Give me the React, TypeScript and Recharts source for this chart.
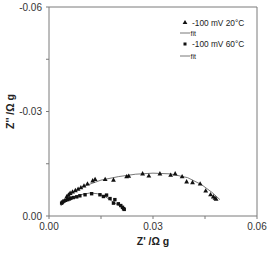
import React from "react";
import {
  ScatterChart,
  Scatter,
  XAxis,
  YAxis,
  ReferenceLine,
  Label,
} from "recharts";

// Nyquist data: Z' (Ω g) and Z'' (Ω g, negative, plotted with the axis reversed)
const z20Re = [0.0051, 0.0056, 0.0061, 0.0068, 0.0076, 0.0084, 0.0092, 0.0101, 0.0111, 0.0126, 0.0133, 0.0162, 0.0186, 0.0224, 0.023, 0.027, 0.0288, 0.032, 0.0351, 0.0364, 0.0384, 0.0397, 0.0414, 0.0436, 0.0452, 0.0466, 0.0474, 0.0479, 0.0482];
const z20Im = [-0.0056, -0.0061, -0.0066, -0.007, -0.0074, -0.0078, -0.0082, -0.0087, -0.0093, -0.0102, -0.0106, -0.0106, -0.0104, -0.0114, -0.0115, -0.0122, -0.0116, -0.0122, -0.0118, -0.0122, -0.0114, -0.0099, -0.0097, -0.0093, -0.0073, -0.0062, -0.0056, -0.0052, -0.0049];

const fit20Re = [0.0035, 0.005, 0.007, 0.01, 0.015, 0.02, 0.025, 0.03, 0.035, 0.04, 0.044, 0.047, 0.0493];
const fit20Im = [-0.003, -0.005, -0.0068, -0.0085, -0.0103, -0.0113, -0.012, -0.0123, -0.0121, -0.011, -0.009, -0.0068, -0.0047];

const z60Re = [0.00365, 0.0039, 0.0043, 0.0048, 0.0054, 0.0059, 0.0063, 0.007, 0.008, 0.0089, 0.0104, 0.0123, 0.0147, 0.0157, 0.0166, 0.0176, 0.0186, 0.019, 0.02, 0.0207, 0.0212, 0.0215, 0.0217];
const z60Im = [-0.0037, -0.004, -0.0043, -0.0045, -0.0047, -0.0049, -0.0051, -0.0053, -0.0055, -0.0058, -0.0061, -0.0064, -0.0061, -0.0056, -0.006, -0.005, -0.0037, -0.0047, -0.0035, -0.003, -0.0025, -0.0021, -0.0019];

const fit60Re = [0.0034, 0.005, 0.007, 0.009, 0.0118, 0.014, 0.016, 0.018, 0.02, 0.0219];
const fit60Im = [-0.003, -0.0043, -0.0054, -0.0061, -0.0066, -0.0064, -0.0057, -0.0044, -0.0031, -0.0018];

const xTicks = [0, 0.015, 0.03, 0.045, 0.06];
const yTicks = [0, -0.015, -0.03, -0.045, -0.06];
const labelledTicks = [0, 0.03, 0.06, -0.03, -0.06];

const legendItems = ["-100 mV 20°C", "fit", "-100 mV 60°C", "fit"];

const toPoints = (xs: number[], ys: number[]) => xs.map((x, i) => ({ x, y: ys[i] }));

const d20 = toPoints(z20Re, z20Im);
const f20 = toPoints(fit20Re, fit20Im);
const d60 = toPoints(z60Re, z60Im);
const f60 = toPoints(fit60Re, fit60Im);

const FONT = "'Liberation Sans', Arial, sans-serif";
const AXIS = "#7a7a7a";
const INK = "#111";

const fmt = (v: number) =>
  labelledTicks.some((t) => Math.abs(t - v) < 1e-9) ? v.toFixed(2) : "";

const Triangle = (p: any) => {
  const { cx, cy } = p;
  const s = 2.4;
  return <path d={`M${cx},${cy - s} L${cx + s},${cy + s * 0.8} L${cx - s},${cy + s * 0.8} Z`} fill={INK} />;
};

const Square = (p: any) => {
  const { cx, cy } = p;
  const s = 1.7;
  return <rect x={cx - s} y={cy - s} width={s * 2} height={s * 2} fill={INK} />;
};

const Nothing = () => <g />;

// Rotated y-axis title centred on the plot's vertical middle
const YTitle = (props: any) => {
  const { viewBox } = props;
  const cx = 10;
  const cy = viewBox.y + viewBox.height / 2;
  return (
    <text
      x={cx}
      y={cy}
      transform={`rotate(-90 ${cx} ${cy})`}
      textAnchor="middle"
      dominantBaseline="central"
      style={{ fontSize: 10.5, fontWeight: "bold", fill: "#222", fontFamily: FONT }}
    >
      Z'' /Ω g
    </text>
  );
};

export default function App() {
  const tickStyle = { fontSize: 10, fill: "#333", fontFamily: FONT };
  return (
    <div style={{ position: "fixed", left: 0, top: 0, width: 269, height: 253, background: "#fff" }}>
      <ScatterChart width={269} height={253} margin={{ top: 7, right: 12, left: 0, bottom: 0 }}>
        <XAxis
          type="number"
          dataKey="x"
          domain={[0, 0.06]}
          ticks={xTicks}
          tickFormatter={fmt}
          tick={tickStyle}
          tickSize={3}
          tickMargin={4}
          height={37}
          stroke={AXIS}
          allowDataOverflow
        >
          <Label
            value="Z' /Ω g"
            position="insideBottom"
            offset={8}
            style={{ fontSize: 10.5, fontWeight: "bold", fill: "#222", fontFamily: FONT }}
          />
        </XAxis>
        <YAxis
          type="number"
          dataKey="y"
          domain={[-0.06, 0]}
          reversed
          ticks={yTicks}
          tickFormatter={fmt}
          tick={tickStyle}
          tickSize={3}
          tickMargin={4}
          width={49}
          stroke={AXIS}
          allowDataOverflow
        >
          <Label content={YTitle} />
        </YAxis>
        <ReferenceLine y={-0.06} stroke={AXIS} />
        <ReferenceLine x={0.06} stroke={AXIS} />
        <Scatter data={f20} line={{ stroke: "#555", strokeWidth: 0.8 }} lineType="joint" shape={Nothing} isAnimationActive={false} />
        <Scatter data={f60} line={{ stroke: "#555", strokeWidth: 0.8 }} lineType="joint" shape={Nothing} isAnimationActive={false} />
        <Scatter data={d20} shape={Triangle} isAnimationActive={false} />
        <Scatter data={d60} shape={Square} isAnimationActive={false} />
      </ScatterChart>
      <svg width={269} height={253} style={{ position: "absolute", left: 0, top: 0, pointerEvents: "none" }}>
        <path d="M185,20 L187.4,24 L182.6,24 Z" fill={INK} />
        <text x={192} y={25.5} fontSize={8.3} fontFamily={FONT} fill="#222">{legendItems[0]}</text>
        <line x1={180} x2={190} y1={33} y2={33} stroke="#555" strokeWidth={0.8} />
        <text x={190.5} y={35.5} fontSize={7} fontFamily={FONT} fill="#222">{legendItems[1]}</text>
        <rect x={183.5} y={42.5} width={3} height={3} fill={INK} />
        <text x={192} y={47} fontSize={8.3} fontFamily={FONT} fill="#222">{legendItems[2]}</text>
        <line x1={180} x2={190} y1={56} y2={56} stroke="#555" strokeWidth={0.8} />
        <text x={190.5} y={58.5} fontSize={7} fontFamily={FONT} fill="#222">{legendItems[3]}</text>
      </svg>
    </div>
  );
}
